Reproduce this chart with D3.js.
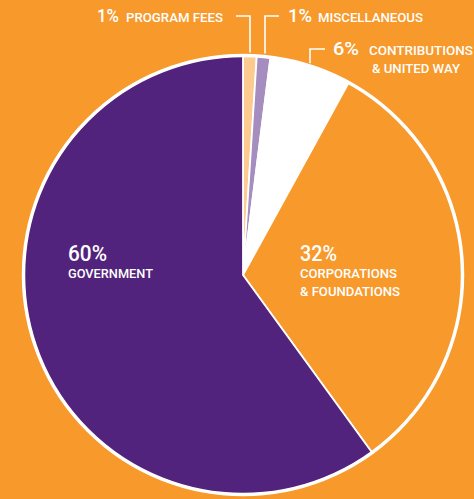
<!DOCTYPE html>
<html><head><meta charset="utf-8">
<script src="https://cdn.jsdelivr.net/npm/d3@7"></script>
<style>html,body{margin:0;padding:0;background:#F7992B;}svg{display:block;}</style>
</head><body>
<svg id="c" width="474" height="499"></svg>
<script>
const categories = ["Program Fees","Miscellaneous","Contributions & United Way","Corporations & Foundations","Government"];
const values = [1,1,6,32,60];
const colors = ["#FDCA8F","#A58DC0","#FFFFFF","#F7992B","#52237C"];
const pctLabels = ["1%","1%","6%","32%","60%"];
const nameLines = [["PROGRAM FEES"],["MISCELLANEOUS"],["CONTRIBUTIONS","& UNITED WAY"],["CORPORATIONS","& FOUNDATIONS"],["GOVERNMENT"]];

const svg = d3.select("#c");
const W=474,H=499;
svg.append("rect").attr("width",W).attr("height",H).attr("fill","#F7992B");
const cx=243, cy=275, R=219.5;
const g = svg.append("g").attr("transform",`translate(${cx},${cy})`);
const pie = d3.pie().sort(null).value(d=>d)(values);
const arc = d3.arc().innerRadius(0).outerRadius(R);
g.selectAll("path.s").data(pie).join("path").attr("class","s")
  .attr("d",arc).attr("fill",(d,i)=>colors[i])
  .attr("stroke","#fff").attr("stroke-width",1.8).attr("stroke-linejoin","round");
g.append("circle").attr("r",R).attr("fill","none").attr("stroke","#fff").attr("stroke-width",3.5);

const font = "'Roboto', 'Liberation Sans', sans-serif";
function rimPt(d){const a=(d.startAngle+d.endAngle)/2;return [cx+Math.sin(a)*(R+2), cy-Math.cos(a)*(R+2)];}
const leaders = [
  {i:0, hx0:236, hy:16, vx:250},
  {i:1, hx0:279, hy:16, vx:265},
  {i:2, hx0:325, hy:49, vx:310}
];
leaders.forEach(L=>{
  const p = rimPt(pie[L.i]);
  svg.append("path").attr("d",`M${L.hx0},${L.hy}H${L.vx}V${p[1]-1}`)
    .attr("fill","none").attr("stroke","#fff").attr("stroke-width",1.6);
});

const layout = [
  {px:97, py:22, ps:18, pw:22, nx:[126], ny:22, nw:[97], gap:0},
  {px:288,py:22, ps:18, pw:24, nx:[318], ny:22, nw:[105], gap:0},
  {px:333,py:55, ps:18, pw:26, nx:[369,372], ny:55, nw:[104,88], gap:18},
  {px:300,py:261,ps:22, pw:37, nx:[300,300], ny:278, nw:[97,100], gap:18},
  {px:68, py:261,ps:22, pw:39, nx:[68], ny:278, nw:[85], gap:18}
];
layout.forEach((L,i)=>{
  const t = svg.append("g").attr("fill","#fff").attr("font-family",font);
  t.append("text").attr("x",L.px).attr("y",L.py).attr("font-size",L.ps).attr("font-weight",500)
    .attr("textLength",L.pw).attr("lengthAdjust","spacingAndGlyphs").text(pctLabels[i]);
  nameLines[i].forEach((s,k)=>{
    t.append("text").attr("x",L.nx[k]).attr("y",L.ny+k*L.gap)
      .attr("font-size",13.5).attr("font-weight",500)
      .attr("textLength",L.nw[k]).attr("lengthAdjust","spacingAndGlyphs").text(s);
  });
});
</script>
</body></html>
